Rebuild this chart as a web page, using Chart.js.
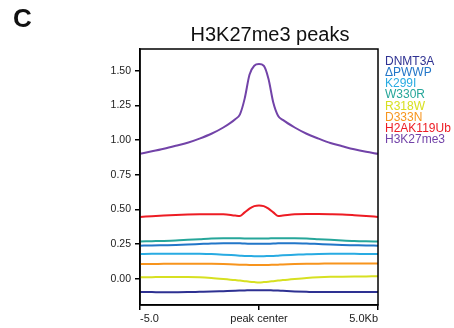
<!DOCTYPE html>
<html>
<head>
<meta charset="utf-8">
<script src="https://cdn.jsdelivr.net/npm/chart.js@4/dist/chart.umd.min.js"></script>
<style>
  html, body { margin: 0; padding: 0; background: #fff; }
  #wrap { width: 454px; height: 328px; position: relative; }
</style>
</head>
<body>
<div id="wrap"><canvas id="c" width="454" height="328"></canvas></div>
<script>
// Distance from peak center (kb)
const positions = [-5, -4.5, -4, -3.5, -3, -2.5, -2, -1.5, -1, -0.8, -0.6, -0.4, -0.2, 0,
                   0.2, 0.4, 0.6, 0.8, 1, 1.5, 2, 2.5, 3, 3.5, 4, 4.5, 5];

const seriesNames = ['DNMT3A', '\u0394PWWP', 'K299I', 'W330R', 'R318W', 'D333N', 'H2AK119Ub', 'H3K27me3'];

const dnmt3a = [-0.096, -0.097, -0.098, -0.098, -0.097, -0.095, -0.093, -0.090, -0.087, -0.086, -0.085, -0.084, -0.083, -0.083,
                -0.083, -0.084, -0.085, -0.086, -0.088, -0.092, -0.095, -0.097, -0.097, -0.097, -0.096, -0.096, -0.096];
const dPWWP  = [0.238, 0.239, 0.241, 0.243, 0.246, 0.250, 0.254, 0.256, 0.256, 0.255, 0.253, 0.252, 0.251, 0.251,
                0.251, 0.252, 0.253, 0.255, 0.256, 0.256, 0.254, 0.250, 0.246, 0.243, 0.241, 0.239, 0.238];
const k299i  = [0.178, 0.179, 0.179, 0.180, 0.180, 0.179, 0.177, 0.173, 0.168, 0.166, 0.164, 0.163, 0.162, 0.162,
                0.162, 0.163, 0.164, 0.166, 0.168, 0.172, 0.176, 0.178, 0.179, 0.179, 0.179, 0.178, 0.178];
const w330r  = [0.268, 0.270, 0.272, 0.275, 0.280, 0.285, 0.290, 0.292, 0.292, 0.291, 0.290, 0.289, 0.289, 0.289,
                0.289, 0.290, 0.291, 0.292, 0.292, 0.292, 0.290, 0.285, 0.280, 0.275, 0.271, 0.269, 0.268];
const r318w  = [0.010, 0.011, 0.012, 0.012, 0.012, 0.010, 0.005, -0.002, -0.010, -0.014, -0.018, -0.022, -0.025, -0.027,
                -0.025, -0.022, -0.018, -0.014, -0.010, -0.002, 0.005, 0.010, 0.013, 0.014, 0.015, 0.016, 0.017];
const d333n  = [0.106, 0.106, 0.107, 0.107, 0.108, 0.108, 0.107, 0.105, 0.102, 0.101, 0.100, 0.099, 0.099, 0.099,
                0.099, 0.099, 0.100, 0.101, 0.102, 0.105, 0.107, 0.108, 0.109, 0.110, 0.110, 0.110, 0.110];
const h2ak119ub = [0.445, 0.450, 0.455, 0.459, 0.462, 0.464, 0.465, 0.465, 0.455, 0.452, 0.478, 0.505, 0.523, 0.528,
                   0.523, 0.505, 0.478, 0.452, 0.455, 0.464, 0.466, 0.466, 0.465, 0.463, 0.458, 0.452, 0.445];
const h3k27me3  = [0.900, 0.918, 0.937, 0.958, 0.980, 1.010, 1.045, 1.090, 1.150, 1.185, 1.300, 1.470, 1.535, 1.547,
                   1.535, 1.440, 1.270, 1.175, 1.145, 1.090, 1.045, 1.010, 0.978, 0.955, 0.933, 0.915, 0.900];

const seriesValues = [dnmt3a, dPWWP, k299i, w330r, r318w, d333n, h2ak119ub, h3k27me3];
const seriesColors = ['#2e3192', '#2276c8', '#29abe2', '#26a69a', '#d7e021', '#f7941d', '#ed1c24', '#7243a8'];

const yTickValues = [0, 0.25, 0.5, 0.75, 1.0, 1.25, 1.5];
const xTickValues = [-5, 0, 5];
const xTickLabels = ['-5.0', 'peak center', '5.0Kb'];

const FONT = '"Liberation Sans", Arial, sans-serif';

const datasets = seriesNames.map((name, i) => ({
  label: name,
  data: positions.map((p, j) => ({ x: p, y: seriesValues[i][j] })),
  borderColor: seriesColors[i],
  backgroundColor: seriesColors[i],
  borderWidth: 2,
  pointRadius: 0,
  cubicInterpolationMode: 'monotone',
  fill: false
}));

// Frame, title, panel letter and coloured text legend
const decorations = {
  id: 'decorations',
  afterDraw(chart) {
    const { ctx, chartArea: a } = chart;
    ctx.save();
    ctx.strokeStyle = '#000';
    ctx.lineWidth = 1.5;
    ctx.strokeRect(a.left, a.top, a.right - a.left, a.bottom - a.top);

    ctx.fillStyle = '#111';
    ctx.textAlign = 'center';
    ctx.textBaseline = 'middle';
    ctx.font = '20px ' + FONT;
    ctx.fillText('H3K27me3 peaks', 270, 35);

    ctx.textAlign = 'left';
    ctx.font = 'bold 26px ' + FONT;
    ctx.fillText('C', 13, 20);

    ctx.font = '12px ' + FONT;
    chart.data.datasets.forEach((ds, i) => {
      ctx.fillStyle = ds.borderColor;
      ctx.fillText(ds.label, a.right + 7, a.top + 12.5 + i * 11.2);
    });
    ctx.restore();
  }
};

new Chart(document.getElementById('c'), {
  type: 'line',
  data: { datasets },
  options: {
    responsive: false,
    animation: false,
    events: [],
    layout: { padding: { left: 0, right: 76, top: 49, bottom: 0 } },
    plugins: { legend: { display: false }, title: { display: false }, tooltip: { enabled: false } },
    scales: {
      x: {
        type: 'linear',
        min: -5,
        max: 5,
        afterBuildTicks: (s) => { s.ticks = xTickValues.map(v => ({ value: v })); },
        afterFit: (s) => { s.height = 23; },
        grid: { display: true, drawOnChartArea: false, drawTicks: true, tickLength: 5, color: '#000', lineWidth: 1.5 },
        border: { display: true, color: '#000', width: 1.5 },
        ticks: {
          align: 'inner',
          maxRotation: 0,
          padding: 2,
          color: '#222',
          font: { family: FONT, size: 11 },
          callback: (v) => xTickLabels[xTickValues.indexOf(v)]
        }
      },
      y: {
        min: -0.19,
        max: 1.656,
        afterBuildTicks: (s) => { s.ticks = yTickValues.map(v => ({ value: v })); },
        afterFit: (s) => { s.width = 140; },
        grid: { display: true, drawOnChartArea: false, drawTicks: true, tickLength: 5, color: '#000', lineWidth: 1.5 },
        border: { display: true, color: '#000', width: 1.5 },
        ticks: {
          padding: 4,
          color: '#222',
          font: { family: FONT, size: 10.5 },
          callback: (v) => Number(v).toFixed(2)
        }
      }
    }
  },
  plugins: [decorations]
});
</script>
</body>
</html>
